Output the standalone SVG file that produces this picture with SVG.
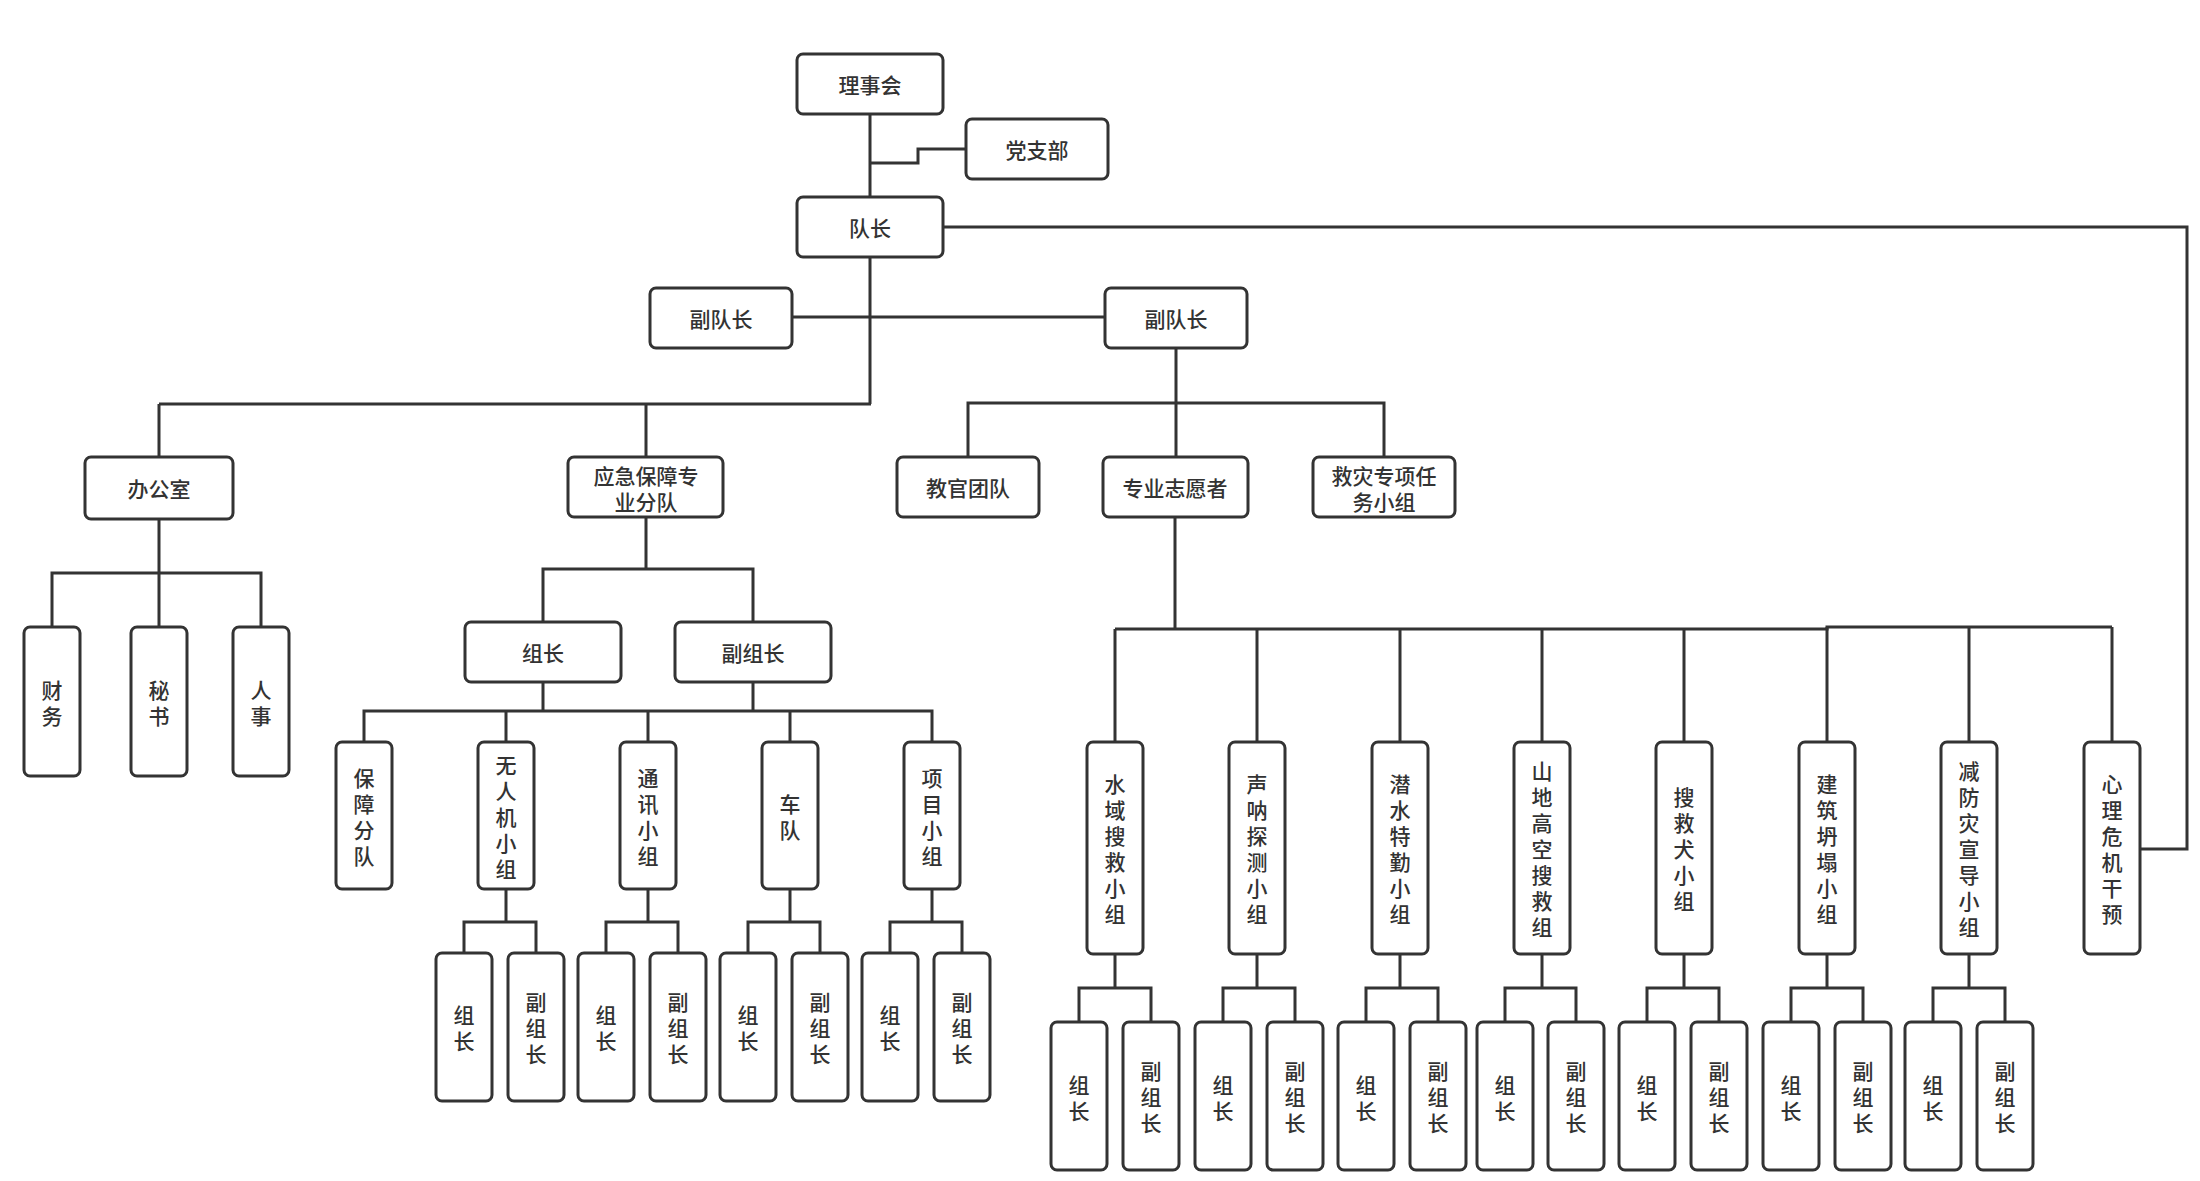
<svg xmlns="http://www.w3.org/2000/svg" width="2200" height="1181" viewBox="0 0 2200 1181">
<style>
.b{fill:#fff;stroke:#333;stroke-width:3}
.t{font-family:"Noto Sans CJK SC","Noto Sans",sans-serif;font-size:21px;font-weight:500;fill:#333;text-anchor:middle}
.c{fill:none;stroke:#333;stroke-width:3}
</style>
<rect width="2200" height="1181" fill="#fff"/>
<g id="connectors" class="c">
<path d="M870,114V404"/>
<path d="M870,163H918V149H966"/>
<path d="M792,317H1105"/>
<path d="M943,227H2187V849H2140"/>
<path d="M159,404H871"/>
<path d="M159,404V457M646,404V457"/>
<path d="M159,519V627M52,627V573H261V627"/>
<path d="M646,517V569M543,622V569H753V622"/>
<path d="M543,682V711M753,682V711M364,742V711H932V742M506,711V742M648,711V742M790,711V742"/>
<path d="M506,889V922M464,953V922H536V953"/>
<path d="M648,889V922M606,953V922H678V953"/>
<path d="M790,889V922M748,953V922H820V953"/>
<path d="M932,889V922M890,953V922H962V953"/>
<path d="M1176,348V403M968,457V403H1384V457M1176,403V457"/>
<path d="M1175,517V629M1115,629H1827V627H2112"/>
<path d="M1115,629V742M1257,629V742M1400,629V742M1542,629V742M1684,629V742M1827,627V742M1969,627V742M2112,627V742"/>
<path d="M1115,954V988M1079,1022V988H1151V1022"/>
<path d="M1257,954V988M1223,1022V988H1295V1022"/>
<path d="M1400,954V988M1366,1022V988H1438V1022"/>
<path d="M1542,954V988M1505,1022V988H1576V1022"/>
<path d="M1684,954V988M1647,1022V988H1719V1022"/>
<path d="M1827,954V988M1791,1022V988H1863V1022"/>
<path d="M1969,954V988M1933,1022V988H2005V1022"/>
</g>
<g id="lishihui"><rect class="b" x="797" y="54" width="146" height="60" rx="6"/><text class="t" x="870" y="93">理事会</text></g>
<g id="dangzhibu"><rect class="b" x="966" y="119" width="142" height="60" rx="6"/><text class="t" x="1037" y="158">党支部</text></g>
<g id="duizhang"><rect class="b" x="797" y="197" width="146" height="60" rx="6"/><text class="t" x="870" y="236">队长</text></g>
<g id="fuduizhang1"><rect class="b" x="650" y="288" width="142" height="60" rx="6"/><text class="t" x="721" y="327">副队长</text></g>
<g id="fuduizhang2"><rect class="b" x="1105" y="288" width="142" height="60" rx="6"/><text class="t" x="1176" y="327">副队长</text></g>
<g id="bangongshi"><rect class="b" x="85" y="457" width="148" height="62" rx="6"/><text class="t" x="159" y="497">办公室</text></g>
<g id="yingji"><rect class="b" x="568" y="457" width="155" height="60" rx="6"/><text class="t" x="646" y="484">应急保障专</text><text class="t" x="646" y="510">业分队</text></g>
<g id="jiaoguan"><rect class="b" x="897" y="457" width="142" height="60" rx="6"/><text class="t" x="968" y="496">教官团队</text></g>
<g id="zhiyuanzhe"><rect class="b" x="1103" y="457" width="145" height="60" rx="6"/><text class="t" x="1175" y="496">专业志愿者</text></g>
<g id="jiuzai"><rect class="b" x="1313" y="457" width="142" height="60" rx="6"/><text class="t" x="1384" y="484">救灾专项任</text><text class="t" x="1384" y="510">务小组</text></g>
<g id="caiwu"><rect class="b" x="24" y="627" width="56" height="149" rx="6"/><text class="t"><tspan x="52" y="697.5">财</tspan><tspan x="52" y="723.5">务</tspan></text></g>
<g id="mishu"><rect class="b" x="131" y="627" width="56" height="149" rx="6"/><text class="t"><tspan x="159" y="697.5">秘</tspan><tspan x="159" y="723.5">书</tspan></text></g>
<g id="renshi"><rect class="b" x="233" y="627" width="56" height="149" rx="6"/><text class="t"><tspan x="261" y="697.5">人</tspan><tspan x="261" y="723.5">事</tspan></text></g>
<g id="zuzhang"><rect class="b" x="465" y="622" width="156" height="60" rx="6"/><text class="t" x="543" y="661">组长</text></g>
<g id="fuzuzhang"><rect class="b" x="675" y="622" width="156" height="60" rx="6"/><text class="t" x="753" y="661">副组长</text></g>
<g id="baozhang"><rect class="b" x="336" y="742" width="56" height="147" rx="6"/><text class="t"><tspan x="364" y="785.5">保</tspan><tspan x="364" y="811.5">障</tspan><tspan x="364" y="837.5">分</tspan><tspan x="364" y="863.5">队</tspan></text></g>
<g id="wurenji"><rect class="b" x="478" y="742" width="56" height="147" rx="6"/><text class="t"><tspan x="506" y="772.5">无</tspan><tspan x="506" y="798.5">人</tspan><tspan x="506" y="824.5">机</tspan><tspan x="506" y="850.5">小</tspan><tspan x="506" y="876.5">组</tspan></text></g>
<g id="tongxun"><rect class="b" x="620" y="742" width="56" height="147" rx="6"/><text class="t"><tspan x="648" y="785.5">通</tspan><tspan x="648" y="811.5">讯</tspan><tspan x="648" y="837.5">小</tspan><tspan x="648" y="863.5">组</tspan></text></g>
<g id="chedui"><rect class="b" x="762" y="742" width="56" height="147" rx="6"/><text class="t"><tspan x="790" y="811.5">车</tspan><tspan x="790" y="837.5">队</tspan></text></g>
<g id="xiangmu"><rect class="b" x="904" y="742" width="56" height="147" rx="6"/><text class="t"><tspan x="932" y="785.5">项</tspan><tspan x="932" y="811.5">目</tspan><tspan x="932" y="837.5">小</tspan><tspan x="932" y="863.5">组</tspan></text></g>
<g id="wrj-zz"><rect class="b" x="436" y="953" width="56" height="148" rx="6"/><text class="t"><tspan x="464" y="1023">组</tspan><tspan x="464" y="1049">长</tspan></text></g>
<g id="wrj-fzz"><rect class="b" x="508" y="953" width="56" height="148" rx="6"/><text class="t"><tspan x="536" y="1010">副</tspan><tspan x="536" y="1036">组</tspan><tspan x="536" y="1062">长</tspan></text></g>
<g id="tx-zz"><rect class="b" x="578" y="953" width="56" height="148" rx="6"/><text class="t"><tspan x="606" y="1023">组</tspan><tspan x="606" y="1049">长</tspan></text></g>
<g id="tx-fzz"><rect class="b" x="650" y="953" width="56" height="148" rx="6"/><text class="t"><tspan x="678" y="1010">副</tspan><tspan x="678" y="1036">组</tspan><tspan x="678" y="1062">长</tspan></text></g>
<g id="cd-zz"><rect class="b" x="720" y="953" width="56" height="148" rx="6"/><text class="t"><tspan x="748" y="1023">组</tspan><tspan x="748" y="1049">长</tspan></text></g>
<g id="cd-fzz"><rect class="b" x="792" y="953" width="56" height="148" rx="6"/><text class="t"><tspan x="820" y="1010">副</tspan><tspan x="820" y="1036">组</tspan><tspan x="820" y="1062">长</tspan></text></g>
<g id="xm-zz"><rect class="b" x="862" y="953" width="56" height="148" rx="6"/><text class="t"><tspan x="890" y="1023">组</tspan><tspan x="890" y="1049">长</tspan></text></g>
<g id="xm-fzz"><rect class="b" x="934" y="953" width="56" height="148" rx="6"/><text class="t"><tspan x="962" y="1010">副</tspan><tspan x="962" y="1036">组</tspan><tspan x="962" y="1062">长</tspan></text></g>
<g id="shuiyu"><rect class="b" x="1087" y="742" width="56" height="212" rx="6"/><text class="t"><tspan x="1115" y="792">水</tspan><tspan x="1115" y="818">域</tspan><tspan x="1115" y="844">搜</tspan><tspan x="1115" y="870">救</tspan><tspan x="1115" y="896">小</tspan><tspan x="1115" y="922">组</tspan></text></g>
<g id="shengna"><rect class="b" x="1229" y="742" width="56" height="212" rx="6"/><text class="t"><tspan x="1257" y="792">声</tspan><tspan x="1257" y="818">呐</tspan><tspan x="1257" y="844">探</tspan><tspan x="1257" y="870">测</tspan><tspan x="1257" y="896">小</tspan><tspan x="1257" y="922">组</tspan></text></g>
<g id="qianshui"><rect class="b" x="1372" y="742" width="56" height="212" rx="6"/><text class="t"><tspan x="1400" y="792">潜</tspan><tspan x="1400" y="818">水</tspan><tspan x="1400" y="844">特</tspan><tspan x="1400" y="870">勤</tspan><tspan x="1400" y="896">小</tspan><tspan x="1400" y="922">组</tspan></text></g>
<g id="shandi"><rect class="b" x="1514" y="742" width="56" height="212" rx="6"/><text class="t"><tspan x="1542" y="779">山</tspan><tspan x="1542" y="805">地</tspan><tspan x="1542" y="831">高</tspan><tspan x="1542" y="857">空</tspan><tspan x="1542" y="883">搜</tspan><tspan x="1542" y="909">救</tspan><tspan x="1542" y="935">组</tspan></text></g>
<g id="soujiuquan"><rect class="b" x="1656" y="742" width="56" height="212" rx="6"/><text class="t"><tspan x="1684" y="805">搜</tspan><tspan x="1684" y="831">救</tspan><tspan x="1684" y="857">犬</tspan><tspan x="1684" y="883">小</tspan><tspan x="1684" y="909">组</tspan></text></g>
<g id="jianzhu"><rect class="b" x="1799" y="742" width="56" height="212" rx="6"/><text class="t"><tspan x="1827" y="792">建</tspan><tspan x="1827" y="818">筑</tspan><tspan x="1827" y="844">坍</tspan><tspan x="1827" y="870">塌</tspan><tspan x="1827" y="896">小</tspan><tspan x="1827" y="922">组</tspan></text></g>
<g id="jianfang"><rect class="b" x="1941" y="742" width="56" height="212" rx="6"/><text class="t"><tspan x="1969" y="779">减</tspan><tspan x="1969" y="805">防</tspan><tspan x="1969" y="831">灾</tspan><tspan x="1969" y="857">宣</tspan><tspan x="1969" y="883">导</tspan><tspan x="1969" y="909">小</tspan><tspan x="1969" y="935">组</tspan></text></g>
<g id="xinli"><rect class="b" x="2084" y="742" width="56" height="212" rx="6"/><text class="t"><tspan x="2112" y="792">心</tspan><tspan x="2112" y="818">理</tspan><tspan x="2112" y="844">危</tspan><tspan x="2112" y="870">机</tspan><tspan x="2112" y="896">干</tspan><tspan x="2112" y="922">预</tspan></text></g>
<g id="sy-zz"><rect class="b" x="1051" y="1022" width="56" height="148" rx="6"/><text class="t"><tspan x="1079" y="1093">组</tspan><tspan x="1079" y="1119">长</tspan></text></g>
<g id="sy-fzz"><rect class="b" x="1123" y="1022" width="56" height="148" rx="6"/><text class="t"><tspan x="1151" y="1079">副</tspan><tspan x="1151" y="1105">组</tspan><tspan x="1151" y="1131">长</tspan></text></g>
<g id="sn-zz"><rect class="b" x="1195" y="1022" width="56" height="148" rx="6"/><text class="t"><tspan x="1223" y="1093">组</tspan><tspan x="1223" y="1119">长</tspan></text></g>
<g id="sn-fzz"><rect class="b" x="1267" y="1022" width="56" height="148" rx="6"/><text class="t"><tspan x="1295" y="1079">副</tspan><tspan x="1295" y="1105">组</tspan><tspan x="1295" y="1131">长</tspan></text></g>
<g id="qs-zz"><rect class="b" x="1338" y="1022" width="56" height="148" rx="6"/><text class="t"><tspan x="1366" y="1093">组</tspan><tspan x="1366" y="1119">长</tspan></text></g>
<g id="qs-fzz"><rect class="b" x="1410" y="1022" width="56" height="148" rx="6"/><text class="t"><tspan x="1438" y="1079">副</tspan><tspan x="1438" y="1105">组</tspan><tspan x="1438" y="1131">长</tspan></text></g>
<g id="sd-zz"><rect class="b" x="1477" y="1022" width="56" height="148" rx="6"/><text class="t"><tspan x="1505" y="1093">组</tspan><tspan x="1505" y="1119">长</tspan></text></g>
<g id="sd-fzz"><rect class="b" x="1548" y="1022" width="56" height="148" rx="6"/><text class="t"><tspan x="1576" y="1079">副</tspan><tspan x="1576" y="1105">组</tspan><tspan x="1576" y="1131">长</tspan></text></g>
<g id="sjq-zz"><rect class="b" x="1619" y="1022" width="56" height="148" rx="6"/><text class="t"><tspan x="1647" y="1093">组</tspan><tspan x="1647" y="1119">长</tspan></text></g>
<g id="sjq-fzz"><rect class="b" x="1691" y="1022" width="56" height="148" rx="6"/><text class="t"><tspan x="1719" y="1079">副</tspan><tspan x="1719" y="1105">组</tspan><tspan x="1719" y="1131">长</tspan></text></g>
<g id="jz-zz"><rect class="b" x="1763" y="1022" width="56" height="148" rx="6"/><text class="t"><tspan x="1791" y="1093">组</tspan><tspan x="1791" y="1119">长</tspan></text></g>
<g id="jz-fzz"><rect class="b" x="1835" y="1022" width="56" height="148" rx="6"/><text class="t"><tspan x="1863" y="1079">副</tspan><tspan x="1863" y="1105">组</tspan><tspan x="1863" y="1131">长</tspan></text></g>
<g id="jf-zz"><rect class="b" x="1905" y="1022" width="56" height="148" rx="6"/><text class="t"><tspan x="1933" y="1093">组</tspan><tspan x="1933" y="1119">长</tspan></text></g>
<g id="jf-fzz"><rect class="b" x="1977" y="1022" width="56" height="148" rx="6"/><text class="t"><tspan x="2005" y="1079">副</tspan><tspan x="2005" y="1105">组</tspan><tspan x="2005" y="1131">长</tspan></text></g>
</svg>
